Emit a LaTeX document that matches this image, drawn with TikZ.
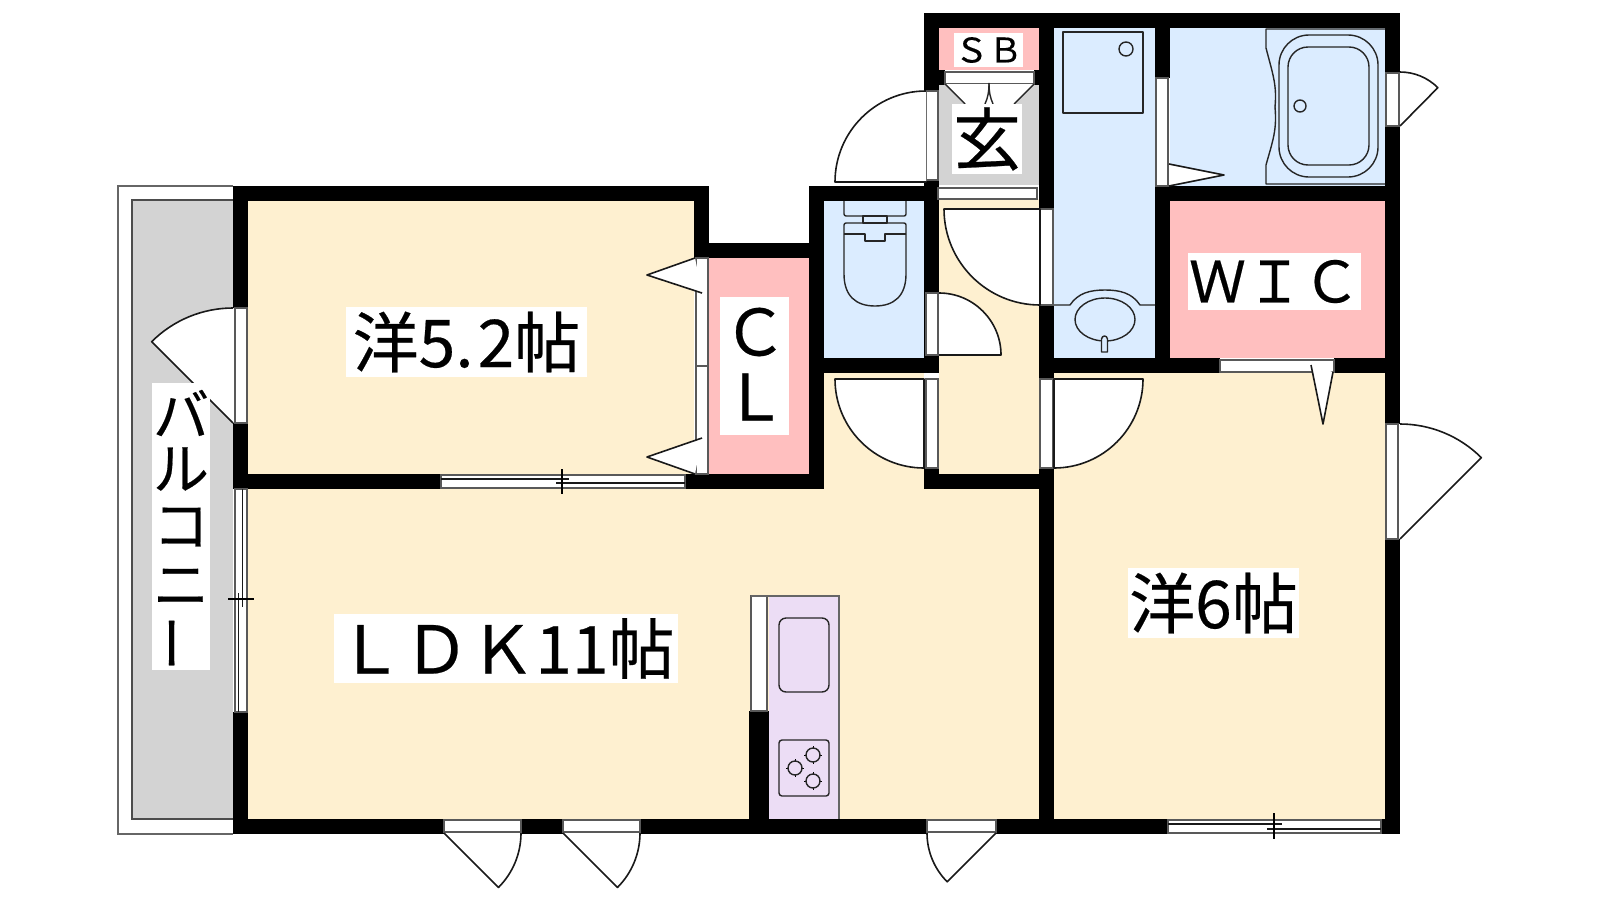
\documentclass[tikz,border=0pt]{standalone}
\usepackage{fontspec}
\setmainfont{Liberation Sans}
\newfontfamily\jp[FakeBold=0.35]{Noto Sans CJK JP}
\definecolor{cream}{RGB}{254,240,208}
\definecolor{bluef}{RGB}{219,236,255}
\definecolor{pinkf}{RGB}{255,191,191}
\definecolor{grayf}{RGB}{211,211,211}
\definecolor{mauvef}{RGB}{236,221,245}
\tikzset{
  wall/.style={fill=black},
  win/.style={fill=white,draw=black!65,line width=1.1pt},
  pane/.style={draw=black!90,line width=1.4pt},
  tick/.style={draw=black,line width=1.5pt},
  fix/.style={draw=black!85,line width=1.4pt,line join=round},
  door/.style={fill=white,draw=black!90,line width=1.6pt,line join=round},
  label/.style={inner sep=0pt,text height=0pt,text depth=0pt,font=\jp},
  chr/.style={inner sep=0pt,anchor=center},
}
\newcommand{\WR}[4]{\fill[wall] (#1,#2) rectangle (#3,#4);}
\newcommand{\FR}[5]{\fill[#1] (#2,#3) rectangle (#4,#5);}
\newcommand{\WN}[4]{\draw[win] (#1,#2) rectangle (#3,#4);}
\begin{document}
\begin{tikzpicture}[x=1pt,y=-1pt]
\useasboundingbox (0,0) rectangle (1600,900);
\fill[white] (0,0) rectangle (1600,900);
% balcony
\draw[draw=black!60,line width=1.1pt,fill=white] (233,186) -- (118,186) -- (118,834) -- (233,834);
\draw[draw=black!70,fill=grayf,line width=1.1pt] (233,200) -- (132,200) -- (132,819) -- (233,819);
% room fills
\FR{cream}{248}{201}{694}{474}
\FR{cream}{248}{489}{1039}{819}
\FR{cream}{824}{373}{924}{489}
\FR{cream}{939}{199}{1039}{474}
\FR{cream}{1054}{373}{1385}{819}
\FR{bluef}{824}{201}{924}{358}
\FR{bluef}{1054}{28}{1155}{358}
\FR{bluef}{1170}{28}{1385}{186}
\FR{pinkf}{939}{28}{1039}{70}
\FR{pinkf}{709}{258}{809}{474}
\FR{pinkf}{1170}{201}{1385}{358}
\FR{grayf}{939}{85}{1039}{185}
% walls
\WR{924}{13}{1400}{28}
\WR{924}{13}{939}{91}
\WR{924}{180}{939}{358}
\WR{1039}{13}{1054}{209}
\WR{939}{70}{945}{85}
\WR{1034}{70}{1039}{85}
\WR{1155}{13}{1170}{78}
\WR{1155}{186}{1400}{201}
\WR{1155}{186}{1170}{373}
\WR{1385}{13}{1400}{73}
\WR{1385}{126}{1400}{424}
\WR{1385}{539}{1400}{834}
\WR{809}{186}{939}{201}
\WR{809}{186}{824}{489}
\WR{809}{358}{939}{373}
\WR{233}{186}{709}{201}
\WR{694}{186}{709}{258}
\WR{694}{243}{824}{258}
\WR{233}{186}{248}{308}
\WR{233}{423}{248}{489}
\WR{233}{474}{441}{489}
\WR{685}{474}{824}{489}
\WR{924}{468}{939}{489}
\WR{924}{474}{1054}{489}
\WR{1039}{305}{1054}{379}
\WR{1039}{358}{1220}{373}
\WR{1334}{358}{1400}{373}
\WR{1039}{468}{1054}{834}
\WR{233}{712}{248}{834}
\WR{233}{819}{1400}{834}
\WR{749}{711}{769}{819}
% windows
\WN{945}{72}{1034}{84}
\WN{938}{188}{1037}{199}
\WN{926}{91}{938}{180}
\WN{1156}{78}{1168}{186}
\WN{1386}{73}{1399}{126}
\WN{926}{293}{938}{355}
\WN{926}{379}{938}{468}
\WN{1040}{209}{1053}{305}
\WN{1040}{379}{1053}{468}
\WN{696}{258}{708}{366}
\WN{696}{366}{708}{474}
\WN{1220}{360}{1334}{372}
\WN{1386}{424}{1398}{539}
\WN{235}{308}{247}{423}
\WN{444}{820}{521}{832}
\WN{563}{820}{640}{832}
\WN{927}{820}{996}{832}
\WN{751}{596}{767}{711}
% sliding windows
\WN{441}{475}{685}{488}
\draw[pane] (441,479) -- (569,479) (556,483) -- (685,483);
\draw[tick] (562,469) -- (562,494);
\WN{235}{489}{247}{712}
\draw[pane] (242.5,489) -- (242.5,607) (238.5,593) -- (238.5,712);
\draw[tick] (228,599) -- (254,599);
\WN{1168}{820}{1381}{833}
\draw[pane] (1168,824) -- (1282,824) (1267,829) -- (1381,829);
\draw[tick] (1274,813) -- (1274,839);
% doors
\draw[door] (926,91) arc (-90:-180:91) -- (926,182);
\draw[door] (939,293) arc (-90:0:62) -- (939,355);
\draw[door] (944,209) arc (180:90:96) -- (1040,209) -- cycle;
\draw[door] (835,379) arc (180:90:89) -- (924,379) -- cycle;
\draw[door] (1143,379) arc (0:90:89) -- (1054,379) -- cycle;
\draw[door] (1400,72) arc (-90:-45:53.5) -- (1400,126);
\draw[door] (1400,424) arc (-90:-45:115) -- (1400,539);
\draw[door] (233,308) arc (-90:-135:115) -- (233,423);
\draw[door] (521,833) arc (0:45:77) -- (444,833);
\draw[door] (640,833) arc (0:45:77) -- (563,833);
\draw[door] (927,833) arc (180:135:69) -- (996,833);
\draw[door] (1169,164) -- (1224,175) -- (1169,186);
\draw[door] (695,258) -- (647,275) -- (702,293);
\draw[door] (695,474) -- (647,457) -- (702,438);
\draw[door] (1311,365) -- (1323,424) -- (1333,372);
% genkan lines
\fill[white] (945,84) -- (1034,84) -- (1014,105) -- (965,105) -- cycle;
\draw[fix] (945,84) -- (965,104);
\draw[fix] (1034,84) -- (1014,104);
\draw[fix] (985,104) .. controls (988,97) and (989,92) .. (989,83);
\draw[fix] (993,104) .. controls (990,97) and (989,92) .. (989,83);
% washroom
\draw[fix] (1063,32) rectangle (1143,113);
\draw[fix] (1126,49) circle (7);
\draw[fix] (1054,305) -- (1070,305) .. controls (1078,293) and (1090,290) .. (1105,290) .. controls (1120,290) and (1132,293) .. (1140,305) -- (1155,305);
\draw[fix] (1105,319.5) ellipse (30 and 21.5);
\draw[fix,fill=bluef] (1101.5,352) -- (1101.5,339) .. controls (1102,335) and (1107,335) .. (1107.5,339) -- (1107.5,352) -- cycle;
% bath
\draw[fix] (1385,29) -- (1266,29) -- (1266,48) .. controls (1273,75) and (1277,85) .. (1275,107) .. controls (1277,130) and (1273,140) .. (1266,165) -- (1266,184) -- (1385,184);
\draw[fix,rounded corners=30] (1279,35) rectangle (1378,177);
\draw[fix,rounded corners=20] (1288,47) rectangle (1369,165);
\draw[fix] (1300,106) circle (6);
% toilet
\draw[fix,rounded corners=2] (844,201) -- (844,216) -- (906,216) -- (906,201);
\draw[fix] (863,216) rectangle (887,223);
\draw[fix,rounded corners=2] (844,234) -- (844,223) -- (906,223) -- (906,234);
\draw[fix] (844,234) -- (865,234) -- (865,241) -- (885,241) -- (885,234) -- (906,234);
\draw[fix] (844,234) -- (844,274) .. controls (844,296) and (856,306) .. (875,306) .. controls (894,306) and (906,296) .. (906,274) -- (906,234);
% kitchen
\fill[mauvef] (769,596) rectangle (839,819);
\draw[draw=black!60,line width=1.1pt] (751,596) -- (839,596) -- (839,819);
\draw[fix,rounded corners=7] (779,618) rectangle (829,692);
\draw[fix,rounded corners=3] (779,740) rectangle (829,796);
\foreach \bx/\by in {813/755,795/768,813/781}{
  \draw[line width=1pt] (\bx-9,\by) -- (\bx+9,\by) (\bx,\by-9) -- (\bx,\by+9);
  \fill[mauvef] (\bx,\by) circle (6.5);
  \draw[fix] (\bx,\by) circle (7);
}
% label backgrounds
\fill[white] (954,33) rectangle (1023,67);
\fill[white] (952,104) rectangle (1022,174);
\fill[white] (720,297) rectangle (789,435);
\fill[white] (1188,253) rectangle (1361,310);
\fill[white] (346,307) rectangle (587,377);
\fill[white] (334,614) rectangle (678,683);
\fill[white] (1128,568) rectangle (1299,638);
\fill[white] (152,383) rectangle (210,670);
% labels
\node[chr,font=\jp\fontsize{34}{34}\selectfont] (sb) at (988.5,50) {ＳＢ};
\node[chr,font=\jp\fontsize{68}{68}\selectfont] (gen) at (987,139) {玄};
\node[chr,font=\jp\fontsize{64}{64}\selectfont] (c) at (755,332) {Ｃ};
\node[chr,font=\jp\fontsize{64}{64}\selectfont] (l) at (755,397) {Ｌ};
\node[chr,font=\jp\fontsize{57}{57}\selectfont] (wic) at (1274.5,281.5) {ＷＩＣ};
\node[chr,font=\jp\fontsize{66}{66}\selectfont] (r1) at (466.5,342) {洋5.\kern4pt 2帖};
\node[chr,font=\jp\fontsize{66}{66}\selectfont] (ldk) at (506,648.5) {ＬＤＫ11帖};
\node[chr,font=\jp\fontsize{66}{66}\selectfont] (r2) at (1213.5,603) {洋6帖};
\foreach \n/\t/\yy in {b1/バ/413,b2/ル/469,b3/コ/527,b4/ニ/587}{
  \node[chr,font=\jp\fontsize{56}{56}\selectfont] (\n) at (181,\yy) {\t};
}
\node[chr,font=\jp\fontsize{56}{56}\selectfont,rotate=90] (b5) at (181,643) {ー};
\end{tikzpicture}
\end{document}
